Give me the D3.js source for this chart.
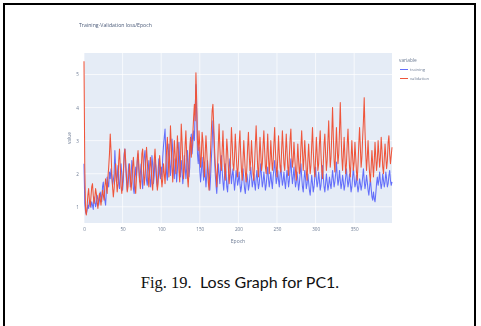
<!DOCTYPE html>
<html>
<head>
<meta charset="utf-8">
<script src="https://cdn.jsdelivr.net/npm/d3@7"></script>
<style>
  html, body { margin: 0; padding: 0; background: #fff; }
  svg { display: block; }
</style>
</head>
<body>
<svg id="fig" width="481" height="326"></svg>
<script>
// Loss per epoch, epochs 0..399
const training = [
  2.3, 1.1, 0.85, 0.78, 0.9, 1.05, 0.95, 1.2, 1.1, 0.98, 1.15, 1.05, 0.92, 1.3, 1.2, 1.0, 1.1, 1.35, 1.25, 1.05,
  1.2, 1.45, 1.3, 1.15, 1.6, 1.75, 1.4, 1.2, 1.05, 1.5, 1.9, 1.7, 1.6, 2.05, 1.85, 2.15, 1.9, 1.65, 1.8, 2.0,
  2.7, 2.2, 1.75, 1.9, 2.25, 1.7, 1.55, 2.0, 2.3, 1.95, 1.5, 1.8, 2.6, 2.75, 2.2, 1.8, 1.5, 1.95, 2.3, 2.0,
  1.6, 1.9, 2.4, 2.1, 1.55, 1.4, 1.85, 2.2, 1.9, 2.35, 2.6, 2.1, 1.75, 2.0, 2.3, 1.8, 1.55, 2.1, 2.5, 2.7,
  2.2, 1.8, 1.65, 2.05, 2.4, 2.0, 1.6, 1.85, 2.55, 2.3, 1.7, 1.95, 2.5, 2.2, 1.75, 1.6, 2.1, 2.45, 2.0, 1.85,
  2.2, 1.9, 2.5, 2.85, 3.1, 3.35, 2.6, 2.0, 1.8, 2.45, 2.9, 2.4, 1.95, 2.3, 3.05, 2.7, 2.1, 1.85, 2.45, 2.2,
  1.75, 2.1, 2.6, 2.95, 2.3, 1.9, 2.4, 2.1, 1.7, 2.0, 2.55, 2.25, 1.85, 2.15, 2.7, 2.35, 1.9, 2.2, 2.95, 3.2,
  2.6, 2.9, 3.3, 3.0, 3.9, 4.7, 3.8, 2.6, 2.3, 2.8, 2.1, 1.75, 2.05, 2.5, 2.15, 1.8, 2.35, 2.0, 1.6, 1.95,
  2.4, 2.1, 1.7, 1.5, 1.9, 2.45, 2.9, 3.6, 3.2, 2.5, 2.0, 1.65, 1.4, 1.85, 2.3, 2.0, 1.7, 2.15, 2.55, 2.1,
  1.75, 1.5, 1.9, 2.3, 2.05, 1.6, 1.45, 1.85, 2.2, 2.45, 2.05, 1.7, 1.95, 2.15, 1.8, 1.5, 1.75, 2.1, 1.9, 1.65,
  1.8, 2.05, 1.7, 1.45, 1.6, 1.9, 2.15, 1.85, 1.55, 1.4, 1.7, 2.0, 1.8, 1.5, 1.65, 1.95, 2.2, 1.9, 1.6, 1.75,
  2.0, 1.7, 1.5, 1.85, 2.1, 1.8, 1.55, 1.7, 2.0, 2.3, 1.9, 1.6, 1.75, 2.05, 1.8, 1.5, 1.65, 1.95, 2.2, 1.85,
  1.6, 1.8, 2.05, 1.75, 1.55, 1.9, 2.15, 2.4, 2.0, 1.7, 1.85, 2.1, 1.8, 1.6, 1.95, 2.25, 1.9, 1.65, 1.8, 2.05,
  1.75, 1.55, 1.85, 2.1, 1.9, 1.6, 1.8, 2.15, 2.45, 2.0, 1.7, 1.9, 2.2, 1.85, 1.6, 1.75, 2.05, 1.8, 1.5, 1.7,
  2.0, 2.3, 1.9, 1.6, 1.45, 1.8, 2.1, 1.85, 1.55, 1.7, 2.0, 1.75, 1.5, 1.35, 1.65, 1.95, 1.7, 1.45, 1.6, 1.9,
  2.2, 1.85, 1.6, 1.75, 2.05, 1.8, 1.5, 1.65, 1.95, 2.25, 1.9, 1.6, 1.45, 1.7, 2.0, 1.75, 1.5, 1.65, 1.9, 1.7,
  1.55, 1.8, 2.1, 1.85, 1.6, 1.75, 2.0, 2.35, 1.95, 1.65, 1.8, 2.1, 1.8, 1.55, 1.7, 1.95, 1.75, 1.5, 1.65, 1.9,
  2.15, 1.85, 1.6, 1.75, 2.0, 1.7, 1.45, 1.6, 1.9, 2.2, 1.85, 1.6, 1.7, 1.95, 1.65, 1.45, 1.6, 1.85, 1.7, 1.5,
  1.65, 1.9, 2.15, 1.8, 1.55, 1.7, 1.95, 1.75, 1.5, 1.35, 1.6, 1.85, 1.55, 1.3, 1.2, 1.45, 1.25, 1.15, 1.4, 1.7,
  1.9, 1.65, 1.8, 2.05, 1.75, 1.55, 1.7, 2.0, 1.8, 1.6, 1.75, 2.05, 1.85, 1.6, 1.7, 1.95, 2.1, 1.8, 1.65, 1.75
];
const validation = [
  5.4, 2.2, 0.9, 0.75, 1.0, 1.35, 1.55, 1.2, 1.0, 1.3, 1.6, 1.7, 1.35, 1.1, 1.25, 1.55, 1.4, 1.15, 0.95, 1.2,
  1.4, 1.25, 1.05, 1.3, 1.5, 1.35, 1.2, 1.6, 1.85, 1.65, 1.4, 1.9, 2.2, 2.6, 3.2, 2.7, 2.0, 1.6, 1.3, 1.55,
  1.9, 2.3, 1.8, 1.45, 1.7, 2.4, 2.75, 2.2, 1.6, 1.4, 1.75, 2.1, 2.5, 2.75, 2.4, 1.9, 1.45, 1.6, 2.0, 2.3,
  1.95, 1.5, 1.75, 2.2, 2.5, 2.1, 1.6, 1.4, 1.9, 2.45, 2.7, 2.3, 1.8, 1.55, 2.0, 2.6, 2.75, 2.2, 1.65, 1.9,
  2.35, 2.8, 2.4, 1.9, 1.6, 2.1, 2.5, 2.2, 1.7, 1.5, 2.0, 2.4, 2.75, 2.3, 1.85, 1.5, 1.7, 2.15, 2.55, 2.2,
  1.9, 1.6, 1.85, 2.3, 2.0, 1.7, 2.2, 2.7, 3.1, 2.5, 1.9, 2.6, 3.45, 2.9, 2.2, 1.75, 2.35, 3.0, 2.6, 2.0,
  2.5, 3.15, 2.7, 2.1, 1.75, 2.4, 3.5, 3.0, 2.3, 1.85, 2.2, 2.85, 3.3, 2.6, 1.9, 1.6, 2.1, 2.8, 3.1, 2.5,
  2.9, 3.2, 3.7, 4.1, 3.6, 5.05, 4.2, 3.0, 2.7, 3.3, 2.8, 2.2, 2.5, 3.25, 3.0, 2.4, 1.9, 2.6, 3.15, 2.7,
  2.2, 1.75, 1.5, 2.1, 2.7, 3.3, 3.9, 4.1, 3.5, 2.8, 2.3, 2.0, 1.6, 2.2, 2.9, 3.5, 2.8, 2.3, 2.1, 2.7,
  3.3, 2.6, 2.2, 1.8, 2.4, 3.05, 2.7, 2.2, 1.7, 2.0, 2.6, 3.4, 2.9, 2.3, 2.1, 2.5, 3.2, 2.7, 2.2, 1.9,
  2.3, 2.9, 3.3, 2.6, 2.1, 1.8, 2.4, 3.0, 2.5, 2.05, 1.75, 2.2, 2.8, 3.25, 2.6, 2.1, 2.4, 3.0, 2.5, 2.0,
  1.8, 2.3, 2.9, 3.45, 2.8, 2.2, 1.9, 2.5, 3.1, 2.6, 2.1, 2.3, 2.85, 3.3, 2.7, 2.2, 2.0, 2.6, 3.2, 2.5,
  2.0, 2.4, 3.0, 2.5, 2.1, 2.35, 2.9, 3.4, 2.7, 2.2, 1.9, 2.5, 3.15, 2.6, 2.2, 2.05, 2.7, 3.3, 2.8, 2.3,
  2.1, 2.6, 3.2, 2.7, 2.2, 1.95, 2.5, 3.05, 3.35, 2.6, 2.2, 2.4, 2.95, 2.5, 2.1, 1.8, 2.3, 2.9, 2.4, 2.0,
  2.2, 2.8, 3.3, 2.7, 2.1, 2.5, 3.0, 2.5, 2.05, 1.8, 2.4, 2.9, 2.4, 2.0, 2.25, 2.85, 3.4, 2.7, 2.2, 1.9,
  2.45, 3.1, 2.6, 2.1, 2.3, 2.9, 3.3, 2.6, 2.1, 1.85, 2.3, 2.9, 3.2, 2.6, 2.1, 2.4, 3.0, 3.6, 2.8, 2.2,
  2.5, 3.2, 4.0, 3.1, 2.4, 2.05, 2.7, 3.4, 2.8, 2.3, 2.6, 3.3, 4.15, 3.2, 2.5, 2.1, 2.6, 3.1, 2.5, 2.0,
  2.3, 2.9, 3.35, 2.7, 2.2, 1.9, 2.45, 3.0, 2.5, 2.1, 2.35, 2.95, 2.5, 2.05, 1.8, 2.3, 2.9, 3.4, 2.8, 2.2,
  2.5, 3.1, 3.6, 4.3, 3.3, 2.6, 2.1, 2.5, 3.0, 2.4, 2.0, 1.75, 2.2, 2.7, 2.3, 1.9, 2.35, 2.95, 2.5, 2.1,
  2.4, 3.0, 2.6, 2.2, 2.5, 3.1, 2.7, 2.2, 2.0, 2.45, 2.9, 2.5, 2.15, 2.4, 2.95, 3.15, 2.6, 2.3, 2.55, 2.8
];
const seriesNames = ["training", "validation"];
const seriesColors = ["#636efa", "#ef553b"];
const xTicks = [0, 50, 100, 150, 200, 250, 300, 350];
const yTicks = [1, 2, 3, 4, 5];

const svg = d3.select("#fig");

// page frame
svg.append("line").attr("x1", 4).attr("x2", 4).attr("y1", 3).attr("y2", 326)
  .attr("stroke", "#000").attr("stroke-width", 2);
svg.append("line").attr("x1", 3).attr("x2", 476).attr("y1", 4).attr("y2", 4)
  .attr("stroke", "#000").attr("stroke-width", 2);
svg.append("line").attr("x1", 475).attr("x2", 475).attr("y1", 3).attr("y2", 326)
  .attr("stroke", "#000").attr("stroke-width", 2);

// soften the embedded plot slightly
const defs = svg.append("defs");
defs.append("filter").attr("id", "soft").attr("x", "-5%").attr("y", "-5%")
  .attr("width", "110%").attr("height", "110%")
  .append("feGaussianBlur").attr("stdDeviation", 0.35);

const chart = svg.append("g").attr("filter", "url(#soft)");

const plotL = 84, plotR = 392, plotT = 53, plotB = 223;
const x = d3.scaleLinear().domain([0, 399]).range([plotL, plotR]);
const y = d3.scaleLinear().domain([0.51, 5.65]).range([plotB, plotT]);

chart.append("rect").attr("x", plotL).attr("y", plotT)
  .attr("width", plotR - plotL).attr("height", plotB - plotT).attr("fill", "#e5ecf6");

// gridlines
chart.append("g").selectAll("line").data(xTicks).join("line")
  .attr("x1", d => x(d)).attr("x2", d => x(d)).attr("y1", plotT).attr("y2", plotB)
  .attr("stroke", "#fff").attr("stroke-width", 0.7);
chart.append("g").selectAll("line").data(yTicks).join("line")
  .attr("x1", plotL).attr("x2", plotR).attr("y1", d => y(d)).attr("y2", d => y(d))
  .attr("stroke", "#fff").attr("stroke-width", 0.7);

// axes (labels only, plotly style)
const font = "'Open Sans', sans-serif";
const textCol = "#6b7a93";
const xAxis = chart.append("g").attr("transform", `translate(0,${plotB + 3})`)
  .call(d3.axisBottom(x).tickValues(xTicks).tickSize(0).tickPadding(2));
const yAxis = chart.append("g").attr("transform", `translate(${plotL - 3},0)`)
  .call(d3.axisLeft(y).tickValues(yTicks).tickFormat(d3.format("d")).tickSize(0).tickPadding(2));
[xAxis, yAxis].forEach(a => {
  a.select(".domain").remove();
  a.selectAll("text").attr("font-family", font).attr("font-size", 4.6).attr("fill", textCol);
});

// series lines
const line = d3.line().x((d, i) => x(i)).y(d => y(d));
[training, validation].forEach((vals, k) => {
  chart.append("path").datum(vals).attr("d", line)
    .attr("fill", "none").attr("stroke", seriesColors[k])
    .attr("stroke-width", 1.05).attr("stroke-linejoin", "round");
});

// titles
chart.append("text").attr("x", 79).attr("y", 27).text("Training-Validation loss/Epoch")
  .attr("font-family", font).attr("font-size", 5.2).attr("fill", "#4a5a78");
chart.append("text").attr("x", (plotL + plotR) / 2).attr("y", 243).attr("text-anchor", "middle")
  .text("Epoch").attr("font-family", font).attr("font-size", 5).attr("fill", textCol);
chart.append("text").attr("transform", `translate(71,${(plotT + plotB) / 2}) rotate(-90)`)
  .attr("text-anchor", "middle").text("value")
  .attr("font-family", font).attr("font-size", 4.8).attr("fill", textCol);

// legend
const lg = chart.append("g").attr("transform", "translate(399,0)");
lg.append("text").attr("x", 0).attr("y", 62).text("variable")
  .attr("font-family", font).attr("font-size", 4.8).attr("fill", textCol);
seriesNames.forEach((name, i) => {
  const yy = 69.5 + i * 9;
  lg.append("line").attr("x1", 1).attr("x2", 9).attr("y1", yy).attr("y2", yy)
    .attr("stroke", seriesColors[i]).attr("stroke-width", 1);
  lg.append("text").attr("x", 11).attr("y", yy + 1.5).text(name)
    .attr("font-family", font).attr("font-size", 4.2).attr("fill", textCol);
});

// figure caption
const cap = svg.append("text").attr("x", 240).attr("y", 288).attr("text-anchor", "middle")
  .attr("fill", "#111");
cap.append("tspan").attr("font-family", "'Liberation Serif', serif").attr("font-size", 16.5)
  .text("Fig. 19.");
cap.append("tspan").attr("font-family", "Lato, 'Open Sans', sans-serif").attr("font-size", 16)
  .text("\u00a0\u00a0Loss Graph for PC1.");
</script>
</body>
</html>
